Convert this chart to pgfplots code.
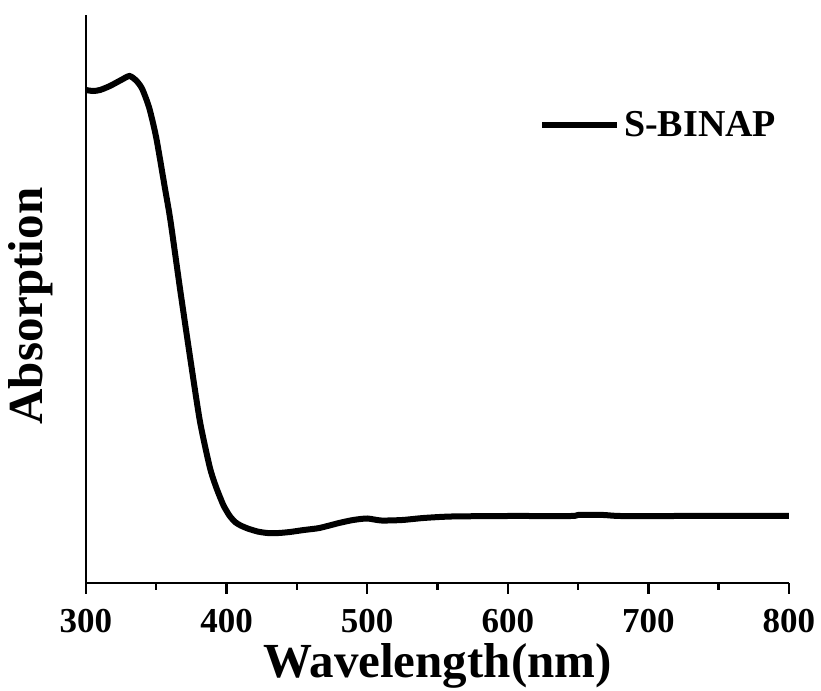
\documentclass[border=0pt]{standalone}
\usepackage{fontspec}
\setmainfont{Liberation Serif}
\usepackage{pgfplots}
\pgfplotsset{compat=1.18}

\pgfplotstableread{
wl   abs
300  493
305  492
310  493
317  497
325  503
331  507
336  502
340  494
345  475
350  445
356  396
360  363
367  293
374  226
381  162
388  116
392  98
395  87
398  77
402  67.5
406  61
410  57.5
415  54.5
422  51.5
429  50
437  50
445  51
455  53
466  55
480  60
490  63
500  64.5
510  62.5
525  63
540  65
560  66.5
600  67
645  67
650  68
668  68
680  67
720  67
760  67
800  67
}\spectrum

\begin{document}
\begin{tikzpicture}
  \begin{axis}[
      scale only axis,
      width=351.5pt,
      height=284pt,
      xmin=300, xmax=800,
      ymin=0, ymax=568,
      axis lines=left,
      axis line style={-, line width=1.2pt},
      xtick={300,400,...,800},
      minor x tick num=1,
      ytick=\empty,
      tick align=outside,
      major tick length=5.5pt,
      minor tick length=3.5pt,
      every tick/.style={black, line width=1.2pt},
      /pgf/number format/assume math mode=true,
      xticklabel style={font=\fontsize{17.5}{17.5}\selectfont\bfseries, yshift=-4pt},
      xlabel={Wavelength(nm)},
      ylabel={Absorption},
      xlabel style={font=\fontsize{24.5}{24.5}\selectfont\bfseries,
        at={(axis description cs:0.5,-0.1655)}, anchor=base},
      ylabel style={font=\fontsize{24.5}{24.5}\selectfont\bfseries,
        at={(axis description cs:-0.047,0.4875)}, anchor=south, inner sep=0pt},
      legend style={draw=none, fill=none, at={(0.988,0.806)}, anchor=east,
        font=\fontsize{19}{19}\selectfont\bfseries, inner sep=0pt},
      legend cell align=left,
      legend image code/.code={\draw[#1] (0pt,0pt) -- (37.5pt,0pt);},
      clip=false,
    ]
    \addplot[black, line width=3pt, smooth, tension=0.4] table[x=wl, y=abs] {\spectrum};
    \addlegendentry{S-BINAP}
  \end{axis}
  \pgfresetboundingbox
  \path (-43pt,-54pt) rectangle (367.5pt,291.5pt);
\end{tikzpicture}
\end{document}
